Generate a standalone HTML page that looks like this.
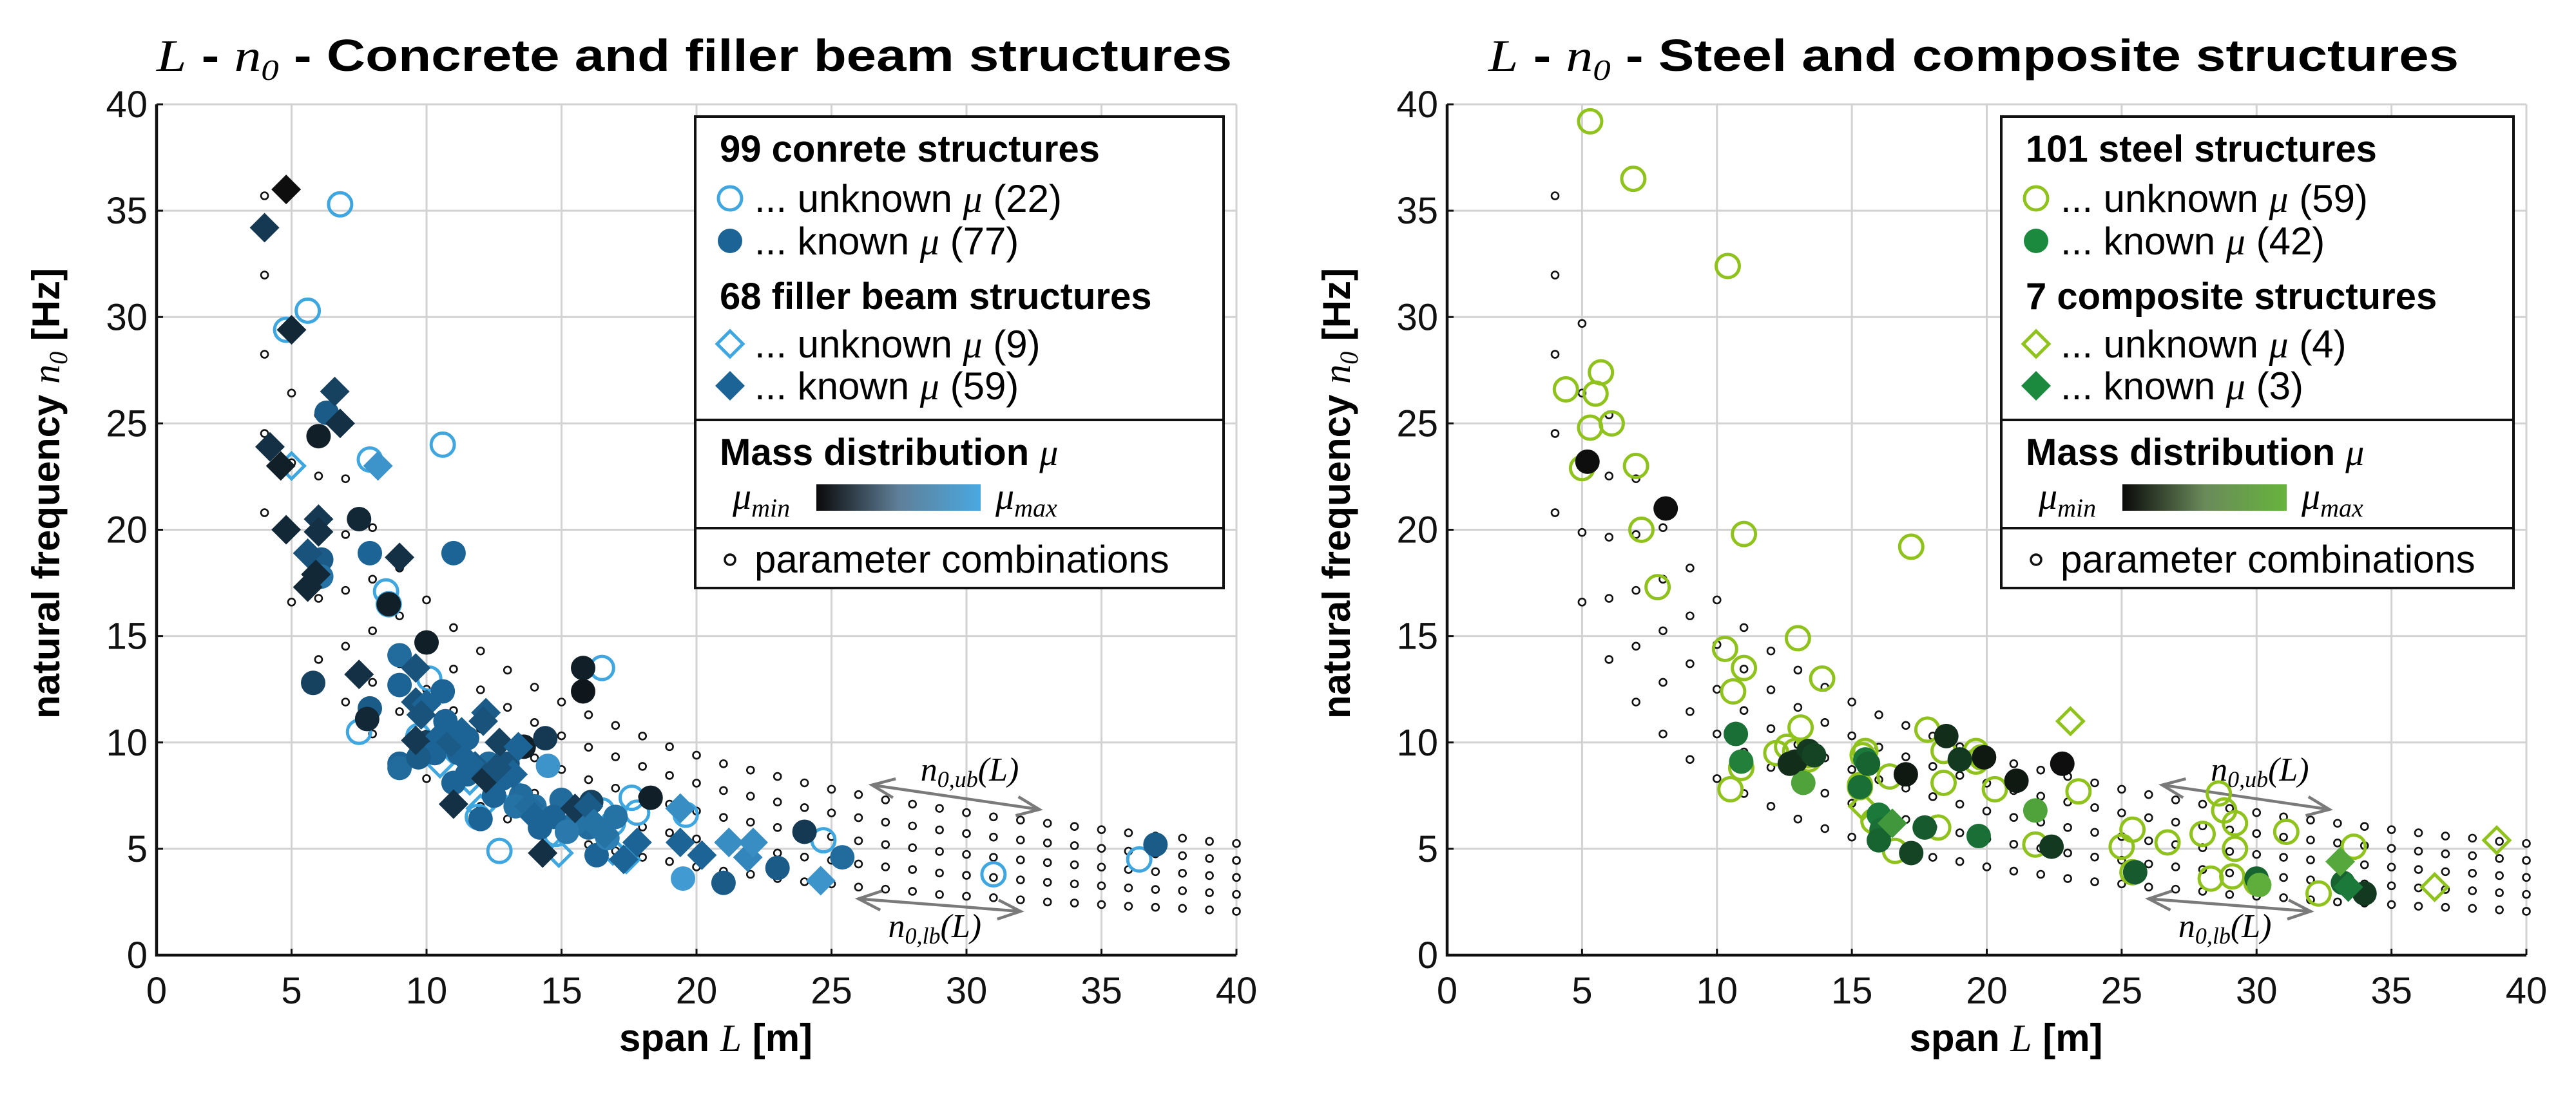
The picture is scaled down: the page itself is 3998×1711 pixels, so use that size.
<!DOCTYPE html>
<html><head><meta charset="utf-8"><style>
html,body{margin:0;padding:0;background:#fff;}
svg{display:block;font-family:"Liberation Sans",sans-serif;}
.tick{font-size:58px;fill:#111;}
.ser{font-family:"Liberation Serif",serif;font-style:italic;}
</style></head><body>
<svg id="fig" xmlns="http://www.w3.org/2000/svg" width="3998" height="1711" viewBox="0 0 3998 1711">
<g id="left"></g>
<g id="right"></g>
</svg>
<script>
// ---- data ----
const gridL = [4,5,6,7,8,9,10,11,12,13,14,15,16,17,18,19,20,21,22,23,24,25,26,27,28,29,30,31,32,33,34,35,36,37,38,39,40];
const gridUb = [35.7,29.7,25.4,22.4,20.1,18.2,16.7,15.4,14.3,13.4,12.6,11.9,11.3,10.8,10.3,9.8,9.4,9.0,8.7,8.4,8.1,7.8,7.55,7.3,7.1,6.9,6.7,6.5,6.35,6.2,6.05,5.9,5.75,5.6,5.5,5.35,5.25];
const gridLb = [20.8,16.6,13.9,11.9,10.4,9.2,8.3,7.6,7.0,6.4,5.95,5.55,5.2,4.9,4.6,4.4,4.15,3.95,3.8,3.6,3.45,3.35,3.2,3.1,3.0,2.85,2.77,2.7,2.6,2.5,2.45,2.38,2.3,2.25,2.2,2.13,2.06];
const xTicks = [0,5,10,15,20,25,30,35,40];
const yTicks = [0,5,10,15,20,25,30,35,40];

// left panel: concrete / filler beam
const lCircUnkL = [6.8,5.6,4.8,10.6,7.9,7.5,8.5,8.6,16.5,12.7,16.5,17.6,17.8,19.6,24.7,31,36.4,9.7,10.1,11.9,16.9,14.8];
const lCircUnkN = [35.3,30.3,29.4,24,23.3,10.5,17.1,16.5,13.5,4.9,6.8,7.4,6.7,6.6,5.4,3.8,4.5,10.3,13,6.5,6.2,5.7];
const lDiaUnkL = [5,10.5,12,14.9,17.4,16.9,11.6,13,19.4];
const lDiaUnkN = [23,9,6.9,4.8,4.5,4.9,8.2,8,6.9];
const lCircKnL = [6,6.3,7.5,7.9,6.1,6.1,8.6,11,10,9,9,5.8,7.9,7.8,9,9,10.6,10.7,12.3,11,13.6,14.4,14.5,15,14.2,15.8,15.8,16.1,16,16.3,17,18.3,19.5,21,23,24,25.4,37,12,13.5,10,11.5,12.5,10.3,13,14,15.5,16.7,9.7,11.2,12.8,14.7,15.2,11.5,13.3];
const lCircKnN = [24.4,25.5,20.5,18.9,18.6,17.8,16.5,18.9,14.7,14.1,12.7,12.8,11.6,11.1,9,8.8,12.4,11,9,8.1,9.8,10.2,8.9,7.3,6,13.5,12.4,7.2,6,4.7,6.5,7.4,3.6,3.4,4.1,5.8,4.6,5.2,6.4,7.5,10,8.5,7.5,9.5,9,7,6.2,5.5,9.3,9.5,8.3,6.5,5.8,10.2,7.0];
const lCircKnMu = [.1,.45,.15,.5,.45,.6,.1,.5,.1,.55,.5,.3,.45,.15,.5,.55,.5,.5,.55,.5,.1,.25,.85,.55,.5,.1,.05,.3,.55,.5,.6,.1,.9,.45,.45,.25,.55,.45,.5,.55,.3,.5,.5,.5,.4,.6,.6,.7,.45,.5,.5,.5,.65,.5,.6];
const lDiaKnL = [4.8,4,5,6.6,6.8,4.2,4.6,4.8,6,6,5.6,5.9,5.6,9,7.5,8.2,9.6,9.6,10,9.8,9.6,10.5,10.9,11.3,12.2,12.1,12.7,11,11.8,12.2,13.2,13.4,13.8,14,14.3,15.5,16,16.2,17.3,17.8,19.4,20.2,21.2,21.9,22.1,24.6,19.4,16.6,12.6,11.6];
const lDiaKnN = [36,34.2,29.4,26.5,25,23.9,23,20,20.5,19.9,18.9,17.9,17.3,18.7,13.2,23,13.5,11.9,11.8,11.3,10.1,10.3,10,10.5,11.4,11,10,7.1,8.9,8.3,8.5,9.8,7,6.5,4.8,6.9,7,6.2,4.5,5.3,5.3,4.7,5.3,4.6,5.3,3.5,6.9,5.7,8.8,9];
const lDiaKnMu = [0,.25,.15,.3,.2,.2,.1,.15,.25,.2,.4,.15,.15,.2,.2,.85,.4,.4,.5,.4,.25,.5,.45,.5,.45,.4,.3,.2,.45,.2,.5,.5,.55,.5,.2,.25,.45,.6,.5,.5,.5,.5,.8,.75,.8,.85,.8,.6,.4,.5];

// right panel: steel / composite
const rCircUnkL = [5.3,6.9,10.4,4.4,5.5,5.7,5.3,6.1,5,7,7.2,11,7.8,17.2,10.3,11,13,13.9,10.6,13.1,12.2,12.6,13.4,15.4,10.9,10.5,15.3,16.4,17.8,18.4,18.4,19.6,19.6,20.3,23.4,15.8,16.6,18.2,21.8,25,25.4,25.4,26.7,28,28.6,28.8,29.2,29.2,28.3,29.1,31.1,32.3,33.6,30,15.5,12.9,13.4,19.8,15.3];
const rCircUnkN = [39.2,36.5,32.4,26.6,26.4,27.4,24.8,25,22.9,23,20,19.8,17.3,19.2,14.4,13.5,14.9,13,12.4,10.7,9.5,9.8,9.4,9.4,8.8,7.8,8,8.4,10.6,9.6,8.1,9.6,9.1,7.8,7.7,6.3,4.9,6,5.2,5.1,5.9,3.9,5.3,5.7,7.6,6.8,6.2,5,3.6,3.7,5.8,2.9,5.1,3.4,9.6,9.6,9.2,9.3,7.9];
const rCircKnL = [5.2,8.1,10.7,10.9,12.9,13.4,13.6,13.2,15.5,15.3,16,16.1,17,17.2,17.7,18.5,19,19.9,19.7,21.1,21.8,22.4,22.8,25.5,30,30.1,33.2,34,15.6,12.7,16];
const rCircKnN = [23.2,21,10.4,9.1,9.1,9.6,9.4,8.1,9.2,7.9,6.6,5.9,8.5,4.8,6,10.3,9.2,9.3,5.6,8.2,6.8,5.1,9,3.9,3.6,3.3,3.4,2.9,9,9,5.4];
const rCircKnMu = [0,0,.45,.55,.15,.2,.25,.85,.5,.45,.5,.45,.05,.25,.35,.15,.2,.05,.45,.05,.85,.2,0,.35,.4,.95,.4,.2,.4,.15,.4];
const rDiaUnkL = [23.1,15.4,36.6,38.9];
const rDiaUnkN = [11,7,3.2,5.4];
const rDiaKnL = [16.5,33.1,33.4];
const rDiaKnN = [6.2,4.4,3.2];
const rDiaKnMu = [.75,.9,.5];

// ---- drawing ----
const NS = "http://www.w3.org/2000/svg";
function mk(parent, tag, attrs, text){
  const e = document.createElementNS(NS, tag);
  for (const k in attrs) e.setAttribute(k, attrs[k]);
  if (text !== undefined) e.textContent = text;
  parent.appendChild(e);
  return e;
}
const Y0 = 1483, Y40 = 162;
function hex(c){return [parseInt(c.slice(1,3),16),parseInt(c.slice(3,5),16),parseInt(c.slice(5,7),16)];}
function mix3(c0, c1, c2, t){
  let a,b,u;
  if(t<0.5){a=hex(c0);b=hex(c1);u=t/0.5;} else {a=hex(c1);b=hex(c2);u=(t-0.5)/0.5;}
  return "rgb("+a.map((v,i)=>Math.round(v+(b[i]-v)*u)).join(",")+")";
}

function panel(g, x0, x1, cfg){
  const sx = L => x0 + L*(x1-x0)/40;
  const sy = n => Y0 - n*(Y0-Y40)/40;
  xTicks.forEach(t=>{
    const l = mk(g,"line",{x1:sx(t),x2:sx(t),y1:Y40,y2:Y0,stroke:"#d2d2d2","stroke-width":3});
    
    
  });
  yTicks.forEach(t=>{
    const l = mk(g,"line",{x1:x0,x2:x1,y1:sy(t),y2:sy(t),stroke:"#d2d2d2","stroke-width":3});
    
    
  });
  const ax = mk(g,"path",{d:`M${x0} ${Y40} V${Y0} H${x1}`,fill:"none",stroke:"#111","stroke-width":4.5});
  
  
  xTicks.forEach(t=>{
    mk(g,"line",{x1:sx(t),x2:sx(t),y1:Y0,y2:Y0-10,stroke:"#111","stroke-width":3});
    const tx = mk(g,"text",{x:sx(t),y:1558,"text-anchor":"middle",class:"tick"},String(t));
    
    
  });
  yTicks.forEach(t=>{
    mk(g,"line",{x1:x0,x2:x0+10,y1:sy(t),y2:sy(t),stroke:"#111","stroke-width":3});
    const tx = mk(g,"text",{x:x0-14,y:sy(t)+20,"text-anchor":"end",class:"tick"},String(t));
    
    
  });
  const pg = mk(g,"g",{});
  
  
  gridL.forEach((L,i)=>{
    for(let k=0;k<5;k++){
      const n = gridUb[i] - (gridUb[i]-gridLb[i])*k/4;
      const c = mk(pg,"circle",{cx:sx(L),cy:sy(n),r:5.5,fill:"#fff",stroke:"#111","stroke-width":2.6});
      
      
    }
  });
  const arr = (ax1,ay1,ax2,ay2)=>{
    const X1=sx(ax1),Y1=sy(ay1),X2=sx(ax2),Y2=sy(ay2);
    const ang=Math.atan2(Y2-Y1,X2-X1);
    const h=(X,Y,a)=>`M${X+38*Math.cos(a+0.4)} ${Y+38*Math.sin(a+0.4)} L${X} ${Y} L${X+38*Math.cos(a-0.4)} ${Y+38*Math.sin(a-0.4)}`;
    const p = mk(g,"path",{d:`M${X1} ${Y1} L${X2} ${Y2} `+h(X1,Y1,ang)+" "+h(X2,Y2,ang+Math.PI),fill:"none",stroke:"#7a7a7a","stroke-width":4.5});
    
    
  };
  arr(26.5,8.0,32.7,6.85);
  arr(26.0,2.65,32.0,2.06);
  const ub = mk(g,"text",{x:sx(28.3),y:1212,"font-size":52,class:"ser"});
  ub.innerHTML = 'n<tspan font-size="36" dy="10">0,ub</tspan><tspan dy="-10">(L)</tspan>';
  
  
  const lb = mk(g,"text",{x:sx(27.1),y:1455,"font-size":52,class:"ser"});
  lb.innerHTML = 'n<tspan font-size="36" dy="10">0,lb</tspan><tspan dy="-10">(L)</tspan>';
  
  

  const dia = (X,Y,r)=>`M${X} ${Y-r} L${X+r} ${Y} L${X} ${Y+r} L${X-r} ${Y} Z`;
  cfg.circUnkL.forEach((L,i)=>{
    const c = mk(g,"circle",{cx:sx(L),cy:sy(cfg.circUnkN[i]),r:18,fill:"none",stroke:cfg.open,"stroke-width":5});
    
    
  });
  cfg.diaUnkL.forEach((L,i)=>{
    const d = mk(g,"path",{d:dia(sx(L),sy(cfg.diaUnkN[i]),20),fill:"none",stroke:cfg.open,"stroke-width":5});
    
    
  });
  cfg.circKnL.forEach((L,i)=>{
    const c = mk(g,"circle",{cx:sx(L),cy:sy(cfg.circKnN[i]),r:19,fill:mix3("#0e0e0e",cfg.mid,cfg.max,cfg.circKnMu[i])});
    
    
  });
  cfg.diaKnL.forEach((L,i)=>{
    const d = mk(g,"path",{d:dia(sx(L),sy(cfg.diaKnN[i]),23),fill:mix3("#0e0e0e",cfg.mid,cfg.max,cfg.diaKnMu[i])});
    
    
  });

  const tt = mk(g,"text",{x:cfg.tx,y:110,"font-size":70,"font-weight":"bold",textLength:cfg.tw,lengthAdjust:"spacingAndGlyphs"});
  tt.innerHTML = '<tspan class="ser" font-weight="normal">L</tspan> - <tspan class="ser" font-weight="normal">n</tspan><tspan class="ser" font-weight="normal" font-size="46" dy="14">0</tspan><tspan dy="-14"> - '+cfg.title+'</tspan>';
  
  
  const yl = mk(g,"text",{transform:`translate(${x0-151},766) rotate(-90)`,"text-anchor":"middle","font-size":60,"font-weight":"bold"});
  yl.innerHTML = 'natural frequency <tspan class="ser" font-weight="normal">n</tspan><tspan class="ser" font-weight="normal" font-size="40" dy="12">0</tspan><tspan dy="-12"> [Hz]</tspan>';
  
  
  const xl = mk(g,"text",{x:(x0+x1)/2+30,y:1632,"text-anchor":"middle","font-size":60,"font-weight":"bold"});
  xl.innerHTML = 'span <tspan class="ser" font-weight="normal">L</tspan> [m]';
  
  

  // legend
  const lg = mk(g,"g",{});
  
  
  const LX=cfg.lx, RX=x1-20;
  mk(lg,"rect",{x:LX,y:181,width:RX-LX,height:732,fill:"#fff",stroke:"#111","stroke-width":4});
  mk(lg,"line",{x1:LX,x2:RX,y1:652,y2:652,stroke:"#111","stroke-width":4});
  mk(lg,"line",{x1:LX,x2:RX,y1:820,y2:820,stroke:"#111","stroke-width":4});
  const hx = LX+38, mx = LX+54, tx2 = LX+92;
  const head=(y,t)=>{const e=mk(lg,"text",{x:hx,y:y,"font-size":58,"font-weight":"bold"},t);
    
    };
  const entry=(y,t,cnt,shape)=>{
    let m;
    if(shape==="oc") m=mk(lg,"circle",{cx:mx,cy:y,r:18,fill:"none",stroke:cfg.open,"stroke-width":5});
    if(shape==="fc") m=mk(lg,"circle",{cx:mx,cy:y,r:19,fill:cfg.known});
    if(shape==="od") m=mk(lg,"path",{d:dia(mx,y,20),fill:"none",stroke:cfg.open,"stroke-width":5});
    if(shape==="fd") m=mk(lg,"path",{d:dia(mx,y,23),fill:cfg.known});
    
    
    const e=mk(lg,"text",{x:tx2,y:y+21,"font-size":60});
    e.innerHTML='... '+t+' <tspan class="ser">μ</tspan> ('+cnt+')';
    
    
  };
  head(251,cfg.h1);
  entry(308,"unknown",cfg.c1,"oc");
  entry(374,"known",cfg.c2,"fc");
  head(480,cfg.h2);
  entry(534,"unknown",cfg.c3,"od");
  entry(599,"known",cfg.c4,"fd");
  const md=mk(lg,"text",{x:hx,y:722,"font-size":58,"font-weight":"bold"});
  md.innerHTML='Mass distribution <tspan class="ser" font-weight="normal">μ</tspan>';
  
  
  const gid="grad"+cfg.id;
  const defs=mk(lg,"defs",{});
  const lgr=mk(defs,"linearGradient",{id:gid,x1:0,x2:1,y1:0,y2:0});
  mk(lgr,"stop",{offset:0,"stop-color":"#0a0a0a"});
  mk(lgr,"stop",{offset:0.5,"stop-color":cfg.cbmid});
  mk(lgr,"stop",{offset:1,"stop-color":cfg.max});
  const cb=mk(lg,"rect",{x:LX+188,y:752,width:255,height:41,fill:`url(#${gid})`});
  
  
  const mn=mk(lg,"text",{x:LX+58,y:790,"font-size":58,class:"ser"});
  mn.innerHTML='μ<tspan font-size="40" dy="12">min</tspan>';
  
  
  const mxl=mk(lg,"text",{x:LX+466,y:790,"font-size":58,class:"ser"});
  mxl.innerHTML='μ<tspan font-size="40" dy="12">max</tspan>';
  
  
  const pm=mk(lg,"circle",{cx:LX+54,cy:869,r:8,fill:"#fff",stroke:"#111","stroke-width":3.5});
  
  
  const pt=mk(lg,"text",{x:LX+92,y:889,"font-size":60},"parameter combinations");
  
  
}

panel(document.getElementById("left"), 243, 1919, {
  id:"L", title:"Concrete and filler beam structures", tx:243, tw:1669,
  open:"#3fa6df", known:"#1c6496", mid:"#1c6496", max:"#4aa8e0", cbmid:"#5f7f98",
  circUnkL:lCircUnkL, circUnkN:lCircUnkN, diaUnkL:lDiaUnkL, diaUnkN:lDiaUnkN,
  circKnL:lCircKnL, circKnN:lCircKnN, circKnMu:lCircKnMu,
  diaKnL:lDiaKnL, diaKnN:lDiaKnN, diaKnMu:lDiaKnMu,
  lx:1079, h1:"99 conrete structures", h2:"68 filler beam structures", c1:22, c2:77, c3:9, c4:59
});
panel(document.getElementById("right"), 2246, 3921, {
  id:"R", title:"Steel and composite structures", tx:2310, tw:1506,
  open:"#8fc21c", known:"#1b8a3e", mid:"#1b7a3a", max:"#66b43c", cbmid:"#6a8a5a",
  circUnkL:rCircUnkL, circUnkN:rCircUnkN, diaUnkL:rDiaUnkL, diaUnkN:rDiaUnkN,
  circKnL:rCircKnL, circKnN:rCircKnN, circKnMu:rCircKnMu,
  diaKnL:rDiaKnL, diaKnN:rDiaKnN, diaKnMu:rDiaKnMu,
  lx:3106, h1:"101 steel structures", h2:"7 composite structures", c1:59, c2:42, c3:4, c4:3
});
</script>
</body></html>
